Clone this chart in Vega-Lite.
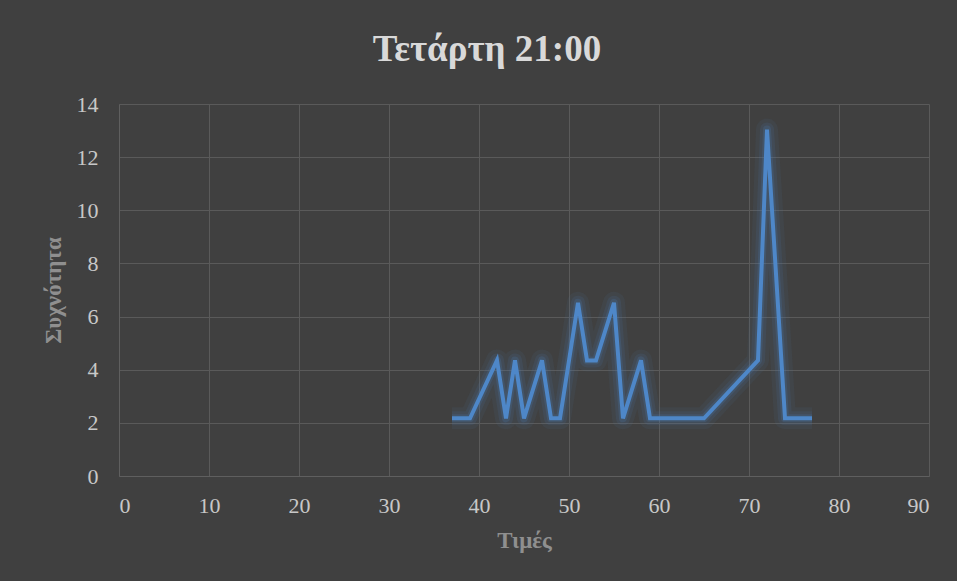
{
  "$schema": "https://vega.github.io/schema/vega-lite/v6.json",
  "autosize": {"type": "none"},
  "width": 810,
  "height": 372,
  "padding": {"left": 119, "top": 104, "right": 28, "bottom": 105},
  "background": "#404040",
  "title": {
    "text": "Τετάρτη 21:00",
    "font": "Liberation Serif",
    "fontSize": 37,
    "fontWeight": "bold",
    "color": "#d9d9d9",
    "anchor": "middle",
    "dx": -37,
    "offset": 24
  },
  "data": {
    "values": [
      {"timi": 37, "syxnotita": 2.17},
      {"timi": 39, "syxnotita": 2.17},
      {"timi": 42, "syxnotita": 4.35},
      {"timi": 43, "syxnotita": 2.17},
      {"timi": 44, "syxnotita": 4.35},
      {"timi": 45, "syxnotita": 2.17},
      {"timi": 47, "syxnotita": 4.35},
      {"timi": 48, "syxnotita": 2.17},
      {"timi": 49, "syxnotita": 2.17},
      {"timi": 51, "syxnotita": 6.52},
      {"timi": 52, "syxnotita": 4.35},
      {"timi": 53, "syxnotita": 4.35},
      {"timi": 55, "syxnotita": 6.52},
      {"timi": 56, "syxnotita": 2.17},
      {"timi": 58, "syxnotita": 4.35},
      {"timi": 59, "syxnotita": 2.17},
      {"timi": 65, "syxnotita": 2.17},
      {"timi": 71, "syxnotita": 4.35},
      {"timi": 72, "syxnotita": 13.04},
      {"timi": 74, "syxnotita": 2.17},
      {"timi": 77, "syxnotita": 2.17}
    ]
  },
  "encoding": {
    "x": {
      "field": "timi",
      "type": "quantitative",
      "scale": {"domain": [0, 90], "nice": false},
      "axis": {
        "title": "Τιμές",
        "values": [0, 10, 20, 30, 40, 50, 60, 70, 80, 90],
        "grid": true,
        "gridColor": "#5a5a5a",
        "domainColor": "#5f5f5f",
        "ticks": false,
        "labelFont": "Liberation Serif",
        "labelFontSize": 22,
        "labelColor": "#c8c8c8",
        "labelPadding": 19,
        "titleFont": "Liberation Serif",
        "titleFontSize": 23,
        "titleFontWeight": "bold",
        "titleColor": "#8f8f8f",
        "titlePadding": 13
      }
    },
    "y": {
      "field": "syxnotita",
      "type": "quantitative",
      "scale": {"domain": [0, 14], "nice": false},
      "axis": {
        "title": "Συχνότητα",
        "values": [0, 2, 4, 6, 8, 10, 12, 14],
        "grid": true,
        "gridColor": "#5a5a5a",
        "domainColor": "#5f5f5f",
        "ticks": false,
        "labelFont": "Liberation Serif",
        "labelFontSize": 22,
        "labelColor": "#c8c8c8",
        "labelPadding": 21,
        "titleFont": "Liberation Serif",
        "titleFontSize": 23,
        "titleFontWeight": "bold",
        "titleColor": "#8f8f8f",
        "titlePadding": 11
      }
    }
  },
  "layer": [
    {"mark": {"type": "line", "color": "#4a7cb8", "strokeWidth": 22, "opacity": 0.08, "strokeJoin": "round"}},
    {"mark": {"type": "line", "color": "#4a7cb8", "strokeWidth": 14, "opacity": 0.12, "strokeJoin": "round"}},
    {"mark": {"type": "line", "color": "#4a7cb8", "strokeWidth": 8, "opacity": 0.2, "strokeJoin": "round"}},
    {"mark": {"type": "line", "color": "#4e87c8", "strokeWidth": 4, "strokeJoin": "miter"}}
  ],
  "config": {"view": {"stroke": null}}
}
